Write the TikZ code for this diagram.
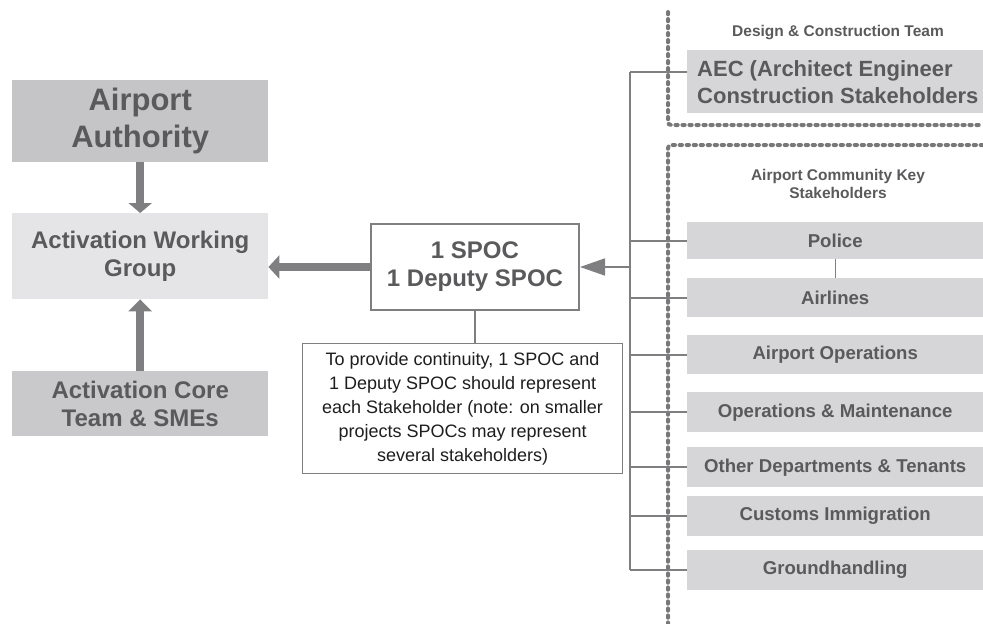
\documentclass[tikz,border=0pt]{standalone}
\usepackage{fontspec}
\setmainfont{Liberation Sans}
\usetikzlibrary{arrows.meta}
\definecolor{authfill}{HTML}{C5C5C7}
\definecolor{groupfill}{HTML}{E5E5E7}
\definecolor{corefill}{HTML}{C9C9CB}
\definecolor{stakefill}{HTML}{D6D6D8}
\definecolor{labeltext}{HTML}{5A5A5C}
\definecolor{linegray}{HTML}{7F7F81}
\definecolor{dotgray}{HTML}{78787A}
\definecolor{notetext}{HTML}{1E1E1E}
\begin{document}
\begin{tikzpicture}[x=1pt,y=-1pt,
  box/.style={draw=none, inner sep=0pt, anchor=north west, align=center, text=labeltext},
  stake/.style={box, fill=stakefill, minimum width=296pt, font=\bfseries\fontsize{18.6}{22}\selectfont},
  conn/.style={draw=linegray, line width=1.6pt},
  fat/.style={draw=linegray, line width=8pt},
  dotline/.style={draw=dotgray, line width=4pt, line cap=round, dash pattern=on 2.3pt off 4.7pt, rounded corners=3pt},
  head/.style={font=\bfseries\fontsize{15.5}{18}\selectfont, text=labeltext, align=center, inner sep=0pt}]
\useasboundingbox (0,0) rectangle (983,624);

% left column
\node[box, fill=authfill, minimum width=256pt, minimum height=82pt,
      font=\bfseries\fontsize{31}{37}\selectfont] (auth) at (12,80) {Airport\\Authority};
\node[box, fill=groupfill, minimum width=256pt, minimum height=86pt,
      font=\bfseries\fontsize{24}{28}\selectfont] (awg) at (12,213) {Activation Working\\Group};
\node[box, fill=corefill, minimum width=256pt, minimum height=65pt,
      font=\bfseries\fontsize{24}{28}\selectfont] (core) at (12,371) {Activation Core\\Team \& SMEs};

% SPOC and note
\node[box, draw=linegray, line width=2pt, fill=white, minimum width=208pt, minimum height=86pt,
      font=\bfseries\fontsize{24}{28}\selectfont] (spoc) at (370,223) {1 SPOC\\1 Deputy SPOC};
\node[box, draw=linegray, line width=1.2pt, fill=white, minimum width=320pt, minimum height=130pt,
      text=notetext, font=\fontsize{18}{24}\selectfont] (note) at (302,343)
      {To provide continuity, 1 SPOC and\\1 Deputy SPOC should represent\\each Stakeholder (note: on smaller\\projects SPOCs may represent\\several stakeholders)};

% right column
\node[box, fill=stakefill, minimum width=296pt, minimum height=63pt] (aec) at (687,50) {};
\node[box, anchor=west, align=left, font=\bfseries\fontsize{22}{27}\selectfont] (aectext)
      at ([xshift=10pt]aec.west) {AEC (Architect Engineer\\Construction Stakeholders};
\node[stake, minimum height=37pt] (police) at (687,222) {Police};
\node[stake, minimum height=39pt] (airlines) at (687,278) {Airlines};
\node[stake, minimum height=39pt] (airops) at (687,335) {Airport Operations};
\node[stake, minimum height=40pt] (om) at (687,392) {Operations \& Maintenance};
\node[stake, minimum height=40pt] (other) at (687,447) {Other Departments \& Tenants};
\node[stake, minimum height=40pt] (customs) at (687,496) {Customs Immigration};
\node[stake, minimum height=40pt] (ground) at (687,550) {Groundhandling};

\node[head] (dct) at (838,33) {Design \& Construction Team};
\node[head] (acks) at (838,184) {Airport Community Key\\Stakeholders};

% dotted group borders
\draw[dotline] (668,12) -- (668,125) -- (983,125);
\draw[dotline] (983,145) -- (668,145) -- (668,624);

% trunk and branches
\coordinate (trunk) at (630,0);
\coordinate (aecb) at ([yshift=9.5pt]aec.west);
\draw[conn] (aecb -| trunk) -- (ground.west -| trunk);
\draw[conn] (aecb) -- (aecb -| trunk);
\foreach \n in {police,airlines,airops,om,other,customs,ground}
  \draw[conn] (\n.west) -- (\n.west -| trunk);
\draw[conn, line width=1.2pt] (police.south) -- (airlines.north);

% arrows
\draw[conn, -{Triangle[length=25pt,width=17pt]}] (spoc.east -| trunk) -- (spoc.east);
\draw[fat, -{Triangle[length=11pt,width=23pt]}] (spoc.west) -- (spoc.west -| awg.east);
\draw[fat, -{Triangle[length=10pt,width=23pt]}] (auth.south) -- (awg.north);
\draw[fat, -{Triangle[length=12pt,width=23pt]}] (core.north) -- (awg.south);
\draw[conn, line width=1.2pt] (spoc.south) -- (spoc.south |- note.north);
\end{tikzpicture}
\end{document}
